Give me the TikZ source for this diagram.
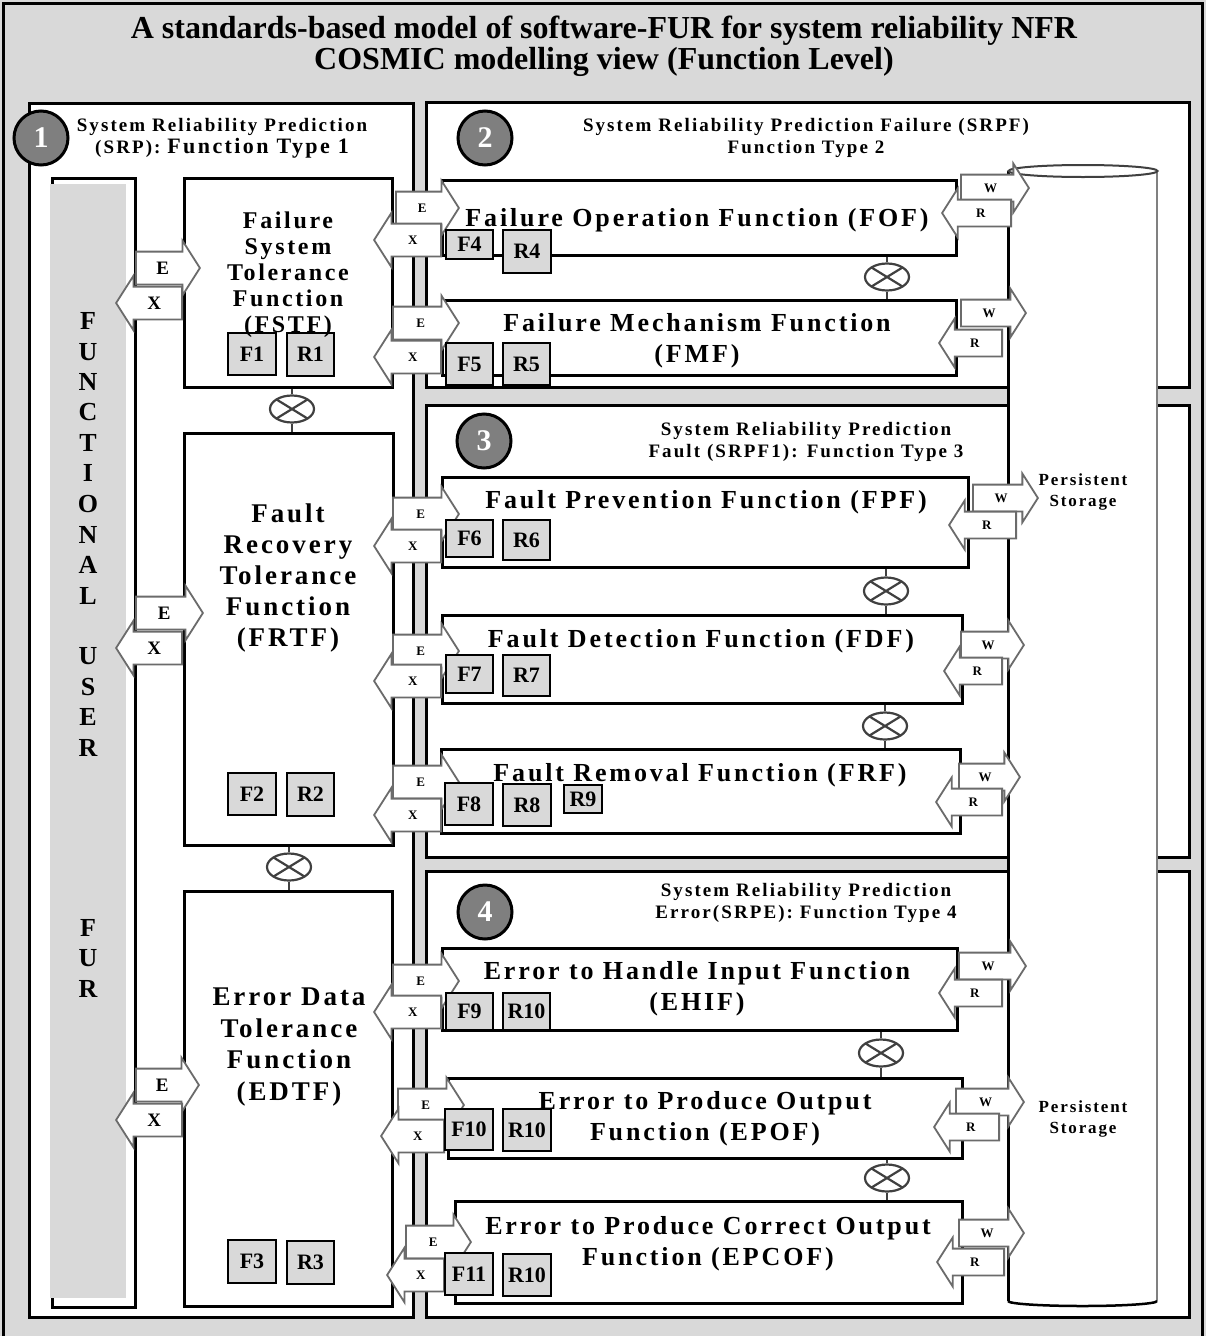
\documentclass[tikz,border=0pt]{standalone}
\usepackage{fontspec}
\setmainfont{Liberation Serif}
\newfontfamily\wide{Liberation Serif}[LetterSpace=11]
\usetikzlibrary{shapes.arrows,shapes.geometric}
\definecolor{paper}{HTML}{D9D9D9}
\definecolor{rim}{HTML}{6B6B6B}
\definecolor{disc}{HTML}{7F7F7F}

% box given by its corners: style, name, x1, y1, x2, y2, text
\newcommand\nbox[7]{\node[#1, minimum width={#5-#3}, minimum height={#6-#4}] (#2) at ({(#3+#5)/2},{(#4+#6)/2}) {#7};}
% block arrow given by tail x, tip x and axis y: style, name, xtail, xtip, y, label
\newcommand\ioarr[6]{\node[#1, minimum height={abs(#4-#3)}, anchor=tail] (#2) at (#3,#5) {#6};}

\tikzset{
  panel/.style={draw=black, line width=3pt, fill=white},
  fbox/.style={draw=black, line width=3pt, fill=white, inner sep=0pt},
  tag/.style={draw=black, line width=1.4pt, fill=paper, inner sep=0pt,
    font=\fontsize{22}{22}\selectfont\bfseries},
  io/.style={single arrow, draw=rim, line width=1.8pt, fill=white,
    single arrow tip angle=115, single arrow head extend=11pt,
    inner xsep=1pt, inner ysep=11pt, text height=9pt, text depth=0pt,
    font=\fontsize{13}{13}\selectfont\bfseries},
  ior/.style={io},
  iol/.style={io, shape border rotate=180},
  uor/.style={io, inner ysep=9pt, text height=13pt, font=\fontsize{19}{19}\selectfont\bfseries},
  uol/.style={uor, shape border rotate=180},
  wr/.style={io, inner ysep=8pt},
  wl/.style={io, inner ysep=8pt, shape border rotate=180},
  otimes/.style={ellipse, draw=black!75, line width=2.2pt, fill=white,
    minimum width=44pt, minimum height=27pt, inner sep=0pt,
    path picture={\draw[black!75, line width=2.2pt]
      (path picture bounding box.north west) -- (path picture bounding box.south east)
      (path picture bounding box.south west) -- (path picture bounding box.north east);}},
  link/.style={draw=black!75, line width=2pt},
  disc/.style={circle, draw=black, line width=3pt, fill=disc, minimum size=54pt,
    inner sep=0pt, text=white, font=\fontsize{30}{30}\selectfont\bfseries},
  head/.style={align=center, font=\wide\bfseries\fontsize{19}{22}\selectfont},
  ftitle/.style={align=center, font=\wide\bfseries\fontsize{26}{31}\selectfont},
  ltitle/.style={align=center, font=\wide\bfseries\fontsize{27}{31}\selectfont},
  store/.style={align=center, font=\wide\bfseries\fontsize{17}{21}\selectfont},
  furl/.style={font=\bfseries\fontsize{26}{26}\selectfont},
}

\begin{document}
\begin{tikzpicture}[x=1pt,y=-1pt]
\useasboundingbox (0,0) rectangle (1206,1336);
\fill[paper] (0,0) rectangle (1206,1336);
\draw[line width=3pt] (3,1336) -- (3,3) -- (1202,3) -- (1202,1336);

% title
\node[align=center, font=\bfseries\fontsize{32}{31}\selectfont] (title) at (604,46)
  {A standards-based model of software-FUR for system reliability NFR\\
   COSMIC modelling view (Function Level)};

% the four function-type panels
\draw[panel] (29,103) rectangle (413,1317);
\draw[panel] (426,102) rectangle (1189,387);
\draw[panel] (426,405) rectangle (1189,857);
\draw[panel] (426,871) rectangle (1189,1317);

% functional user column
\draw[line width=3pt, fill=white] (52,178) rectangle (135,1307);
\fill[paper] (50,184) rectangle (126,1298);
\foreach \c/\y [count=\i] in {F/321,U/352,N/382,C/412,T/443,I/473,O/504,N/535,A/565,L/596,
    U/656,S/687,E/717,R/748,F/928,U/958,R/989}
  \node[furl] (fur\i) at (88,\y) {\c};

% persistent storage cylinder
\fill[white] (1008,171) rectangle (1157,1301);
\fill[white] (1083,1301) ellipse [x radius=74.5pt, y radius=5pt];
\draw[line width=2.5pt, black!50] (1157,171) -- (1157,1301);
\draw[line width=3pt] (1008,171) -- (1008,1301);
\draw[line width=2.5pt] (1008,1301) arc[start angle=180, end angle=360, x radius=74.5pt, y radius=5pt];
\draw[line width=2pt, black!75, fill=white] (1083,171) ellipse [x radius=74.5pt, y radius=6pt];
\node[store] (ps1) at (1083,492) {Persistent\\Storage};
\node[store] (ps2) at (1083,1119) {Persistent\\Storage};

% left column functions
\nbox{fbox}{fstf}{184}{178}{392}{387}{}
\nbox{fbox}{frtf}{184}{433}{393}{845}{}
\nbox{fbox}{edtf}{184}{891}{392}{1306}{}

% right column functions
\nbox{fbox}{fof}{442}{180}{956}{255}{}
\nbox{fbox}{fmf}{442}{300}{956}{375}{}
\nbox{fbox}{fpf}{442}{477}{968}{567}{}
\nbox{fbox}{fdf}{442}{615}{962}{703}{}
\nbox{fbox}{frf}{441}{749}{960}{833}{}
\nbox{fbox}{ehif}{442}{948}{957}{1030}{}
\nbox{fbox}{epof}{448}{1078}{962}{1158}{}
\nbox{fbox}{epcof}{455}{1201}{962}{1303}{}

% sequence operators
\node[otimes] (ota) at (292,409) {};
\node[otimes] (otb) at (289,867) {};
\node[otimes] (otc) at (887,277) {};
\node[otimes] (otd) at (886,591) {};
\node[otimes] (ote) at (885,726) {};
\node[otimes] (otf) at (881,1053) {};
\node[otimes] (otg) at (887,1178) {};
\draw[link] (fstf.south -| ota.north) -- (ota.north);
\draw[link] (ota.south) -- (frtf.north -| ota.south);
\draw[link] (frtf.south -| otb.north) -- (otb.north);
\draw[link] (otb.south) -- (edtf.north -| otb.south);
\draw[link] (fof.south -| otc.north) -- (otc.north);
\draw[link] (otc.south) -- (fmf.north -| otc.south);
\draw[link] (fpf.south -| otd.north) -- (otd.north);
\draw[link] (otd.south) -- (fdf.north -| otd.south);
\draw[link] (fdf.south -| ote.north) -- (ote.north);
\draw[link] (ote.south) -- (frf.north -| ote.south);
\draw[link] (ehif.south -| otf.north) -- (otf.north);
\draw[link] (otf.south) -- (epof.north -| otf.south);
\draw[link] (epof.south -| otg.north) -- (otg.north);
\draw[link] (otg.south) -- (epcof.north -| otg.south);

% entry / exit movements from the functional user
\ioarr{uor}{e1}{135}{199}{268}{E}
\ioarr{uol}{x1}{183}{117}{303}{X}
\ioarr{uor}{e2}{135}{202}{613}{E}
\ioarr{uol}{x2}{183}{117}{648}{X}
\ioarr{uor}{e3}{135}{198}{1085}{E}
\ioarr{uol}{x3}{183}{117}{1120}{X}

% entry / exit movements between the function levels
\ioarr{ior}{e4}{395}{458}{208}{E}
\ioarr{iol}{x4}{442}{375}{240}{X}
\ioarr{ior}{e5}{392}{458}{323}{E}
\ioarr{iol}{x5}{442}{375}{357}{X}
\ioarr{ior}{e6}{392}{458}{514}{E}
\ioarr{iol}{x6}{442}{375}{546}{X}
\ioarr{ior}{e7}{392}{458}{651}{E}
\ioarr{iol}{x7}{442}{375}{681}{X}
\ioarr{ior}{e8}{392}{458}{782}{E}
\ioarr{iol}{x8}{442}{375}{815}{X}
\ioarr{ior}{e9}{392}{458}{981}{E}
\ioarr{iol}{x9}{442}{375}{1012}{X}
\ioarr{ior}{e10}{397}{463}{1105}{E}
\ioarr{iol}{x10}{445}{382}{1136}{X}
\ioarr{ior}{e11}{405}{470}{1242}{E}
\ioarr{iol}{x11}{445}{388}{1275}{X}

% write / read movements to persistent storage
\ioarr{wr}{w4}{960}{1028}{188}{W}
\ioarr{wl}{r4}{1012}{943}{213}{R}
\ioarr{wr}{w5}{960}{1025}{313}{W}
\ioarr{wl}{r5}{1003}{940}{343}{R}
\ioarr{wr}{w6}{972}{1037}{498}{W}
\ioarr{wl}{r6}{1017}{950}{525}{R}
\ioarr{wr}{w7}{960}{1023}{645}{W}
\ioarr{wl}{r7}{1003}{945}{671}{R}
\ioarr{wr}{w8}{958}{1019}{777}{W}
\ioarr{wl}{r8}{1003}{937}{802}{R}
\ioarr{wr}{w9}{958}{1025}{966}{W}
\ioarr{wl}{r9}{1003}{940}{993}{R}
\ioarr{wr}{w10}{955}{1023}{1102}{W}
\ioarr{wl}{r10}{1000}{935}{1127}{R}
\ioarr{wr}{w11}{958}{1023}{1233}{W}
\ioarr{wl}{r11}{1005}{938}{1262}{R}

% function and rule references
\nbox{tag}{f1}{228}{333}{276}{375}{F1}
\nbox{tag}{r1}{287}{333}{334}{376}{R1}
\nbox{tag}{f2}{228}{773}{276}{815}{F2}
\nbox{tag}{r2}{287}{773}{334}{816}{R2}
\nbox{tag}{f3}{228}{1240}{276}{1283}{F3}
\nbox{tag}{r3}{287}{1241}{334}{1284}{R3}
\nbox{tag}{f4}{446}{230}{493}{259}{F4}
\nbox{tag}{r4}{503}{230}{551}{273}{R4}
\nbox{tag}{f5}{446}{343}{493}{385}{F5}
\nbox{tag}{r5}{503}{343}{550}{385}{R5}
\nbox{tag}{f6}{446}{520}{493}{557}{F6}
\nbox{tag}{r6}{503}{520}{550}{560}{R6}
\nbox{tag}{f7}{446}{655}{493}{693}{F7}
\nbox{tag}{r7}{503}{655}{550}{696}{R7}
\nbox{tag}{f8}{445}{783}{493}{825}{F8}
\nbox{tag}{r8}{503}{784}{551}{826}{R8}
\nbox{tag}{r9}{564}{785}{602}{813}{R9}
\nbox{tag}{f9}{446}{993}{493}{1030}{F9}
\nbox{tag}{r10a}{503}{993}{550}{1030}{R10}
\nbox{tag}{f10}{445}{1109}{493}{1150}{F10}
\nbox{tag}{r10b}{503}{1109}{551}{1151}{R10}
\nbox{tag}{f11}{445}{1253}{493}{1295}{F11}
\nbox{tag}{r10c}{503}{1254}{551}{1296}{R10}

% function names
\node[ltitle, font=\wide\bfseries\fontsize{24}{26}\selectfont] (fstf-t) at (288,275)
  {Failure\\System\\Tolerance\\Function\\(FSTF)};
\node[ltitle] (frtf-t) at (288,578) {Fault\\Recovery\\Tolerance\\Function\\(FRTF)};
\node[ltitle, font=\wide\bfseries\fontsize{27}{31.5}\selectfont] (edtf-t) at (289,1047)
  {Error Data\\Tolerance\\Function\\(EDTF)};
\node[ftitle] (fof-t) at (697,220) {Failure Operation Function (FOF)};
\node[ftitle] (fmf-t) at (697,341) {Failure Mechanism Function\\(FMF)};
\node[ftitle] (fpf-t) at (706,502) {Fault Prevention Function (FPF)};
\node[ftitle] (fdf-t) at (701,641) {Fault Detection Function (FDF)};
\node[ftitle] (frf-t) at (700,775) {Fault Removal Function (FRF)};
\node[ftitle] (ehif-t) at (697,989) {Error to Handle Input Function\\(EHIF)};
\node[ftitle] (epof-t) at (705,1119) {Error to Produce Output\\Function (EPOF)};
\node[ftitle] (epcof-t) at (708,1244) {Error to Produce Correct Output\\Function (EPCOF)};

% panel headings and numbers
\node[disc] (n1) at (41,138) {1};
\node[disc] (n2) at (485,138) {2};
\node[disc] (n3) at (484,441) {3};
\node[disc] (n4) at (485,912) {4};
\node[head] (h1) at (222,138) {System Reliability Prediction\\
  (SRP): {\fontsize{22}{22}\selectfont Function Type 1}};
\node[head] (h2) at (806,138) {System Reliability Prediction Failure (SRPF)\\Function Type 2};
\node[head] (h3) at (806,442) {System Reliability Prediction\\Fault (SRPF1): Function Type 3};
\node[head] (h4) at (806,903) {System Reliability Prediction\\Error(SRPE): Function Type 4};
\end{tikzpicture}
\end{document}
